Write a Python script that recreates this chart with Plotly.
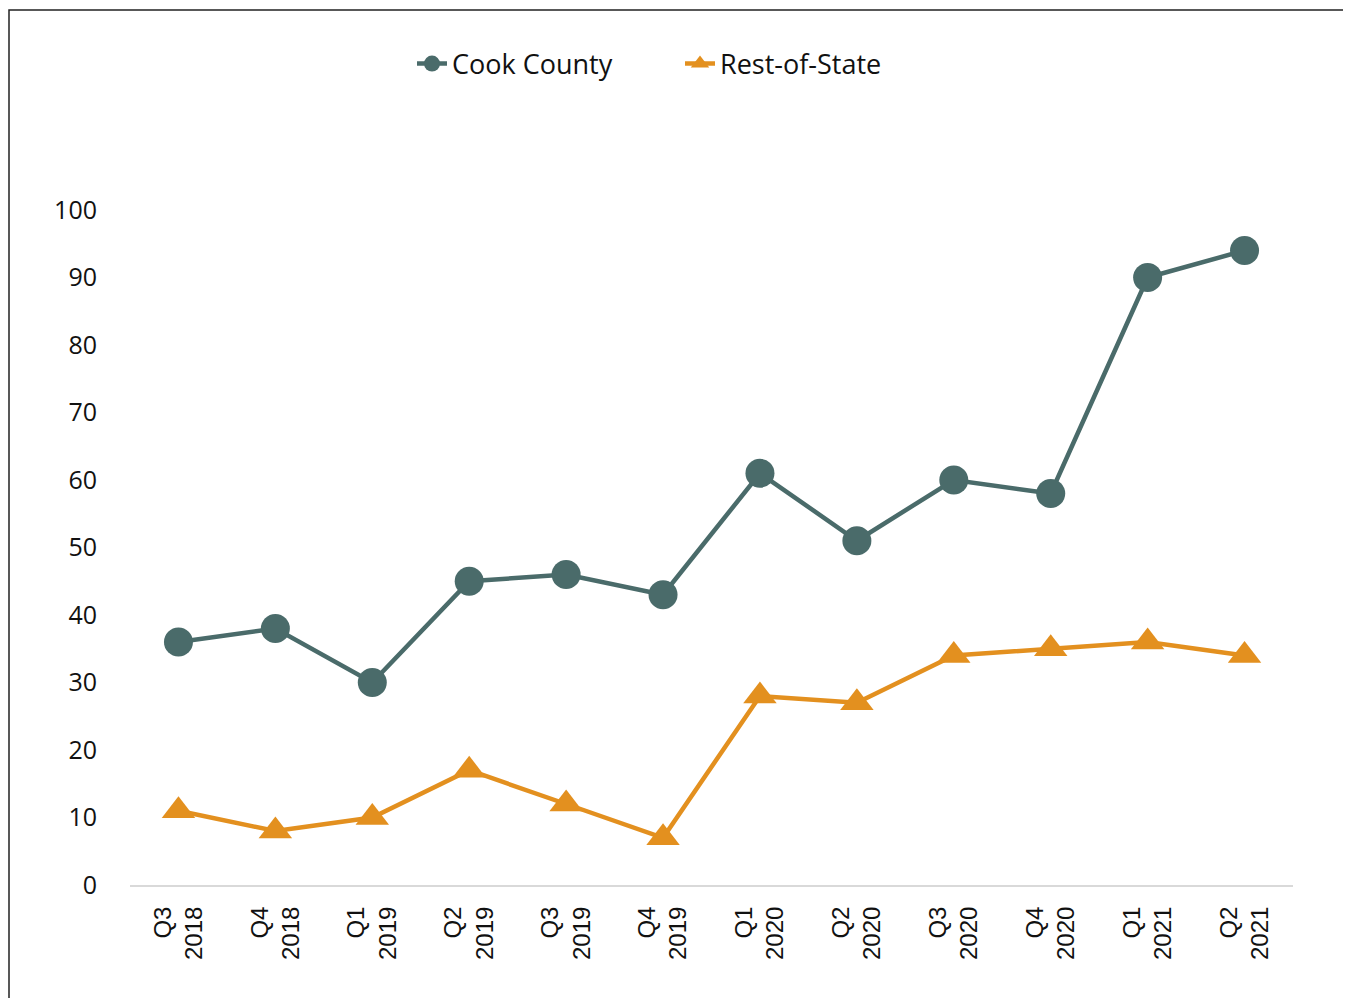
import plotly.graph_objects as go

quarters = ["Q3<br>2018", "Q4<br>2018", "Q1<br>2019", "Q2<br>2019", "Q3<br>2019", "Q4<br>2019",
            "Q1<br>2020", "Q2<br>2020", "Q3<br>2020", "Q4<br>2020", "Q1<br>2021", "Q2<br>2021"]
cook_county = [36, 38, 30, 45, 46, 43, 61, 51, 60, 58, 90, 94]
rest_of_state = [11, 8, 10, 17, 12, 7, 28, 27, 34, 35, 36, 34]
y_ticks = [0, 10, 20, 30, 40, 50, 60, 70, 80, 90, 100]

COOK = "#4a6b6a"
REST = "#e3901f"

fig = go.Figure()
fig.add_trace(go.Scatter(x=quarters, y=cook_county, name="Cook County", mode="lines+markers",
                         line=dict(color=COOK, width=4.5),
                         marker=dict(symbol="circle", size=29, color=COOK)))
fig.add_trace(go.Scatter(x=quarters, y=rest_of_state, name="Rest-of-State", mode="lines+markers",
                         line=dict(color=REST, width=4.5),
                         marker=dict(symbol="triangle-up", size=29, color=REST)))

# page has an 8px body margin: figure coordinates = page coordinates - 8
OFF = 8
W, H = 1351 - OFF, 998 - OFF
ml, mr, mt, mb = 130 - OFF, W - (1293 - OFF), 210 - OFF, H - (885 - OFF)
pw, ph = W - ml - mr, H - mt - mb

fig.update_layout(
    width=W, height=H,
    margin=dict(l=ml, r=mr, t=mt, b=mb),
    plot_bgcolor="white", paper_bgcolor="white",
    font=dict(family="Open Sans, Lato, sans-serif", color="#111111"),
    showlegend=True,
    legend=dict(orientation="h", xref="container", x=(412 - OFF) / W, xanchor="left",
                yref="container", y=1 - (64 - OFF) / H, yanchor="middle",
                font=dict(size=27, family="Open Sans, sans-serif", color="#111111"),
                entrywidth=223, tracegroupgap=0),
    xaxis=dict(type="category", showgrid=False, showline=True, linecolor="#d9d9d9", linewidth=2,
               ticks="", tickangle=-90, ticklabelstandoff=10,
               tickfont=dict(size=24, family="Liberation Sans, Arial, sans-serif", color="#111111"),
               range=[-0.5, len(quarters) - 0.5]),
    yaxis=dict(range=[0, 100], tickvals=y_ticks, showgrid=False, zeroline=False, showline=False,
               ticks="", ticklabelstandoff=32,
               tickfont=dict(size=25, family="Open Sans, sans-serif", color="#111111")),
)

# outer border rectangle (bottom edge runs below the visible page)
fig.add_shape(type="rect", xref="paper", yref="paper",
              x0=(9 - OFF - ml) / pw, x1=(1348 - OFF - ml) / pw,
              y0=(H - mb - (1010 - OFF)) / ph, y1=(H - mb - (10 - OFF)) / ph,
              line=dict(color="#222222", width=1.5), fillcolor="rgba(0,0,0,0)", layer="below")

fig.write_html("out.html")
